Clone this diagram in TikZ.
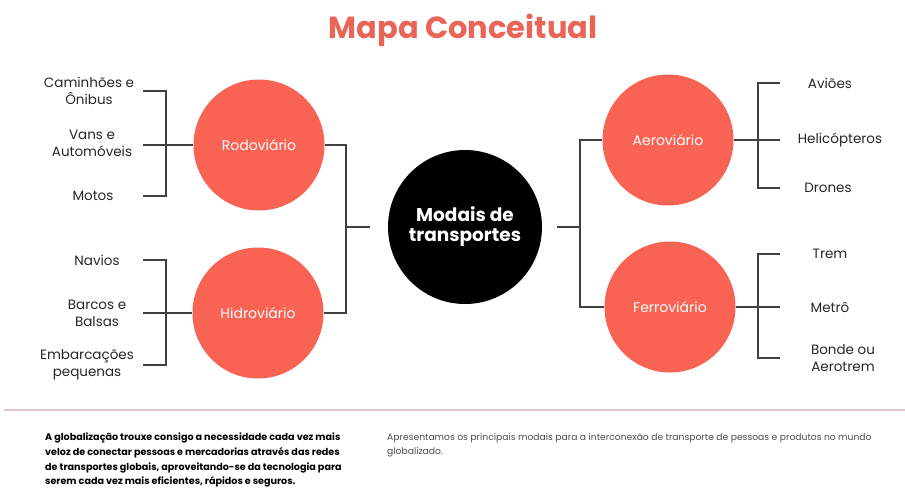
\documentclass[tikz,border=0pt]{standalone}
\usepackage{fontspec}
\setmainfont{Poppins}
\usetikzlibrary{positioning}
\definecolor{coral}{RGB}{248,99,84}
\definecolor{titlered}{RGB}{234,100,88}
\definecolor{rulepink}{RGB}{228,196,206}

\begin{document}
\begin{tikzpicture}[x=1pt,y=-1pt]
    \tikzstyle{modal} = [shape=circle, fill=coral, minimum size=131pt, inner sep=0pt, text=white, font=\fontsize{14}{16}\selectfont];
    \tikzstyle{core} = [shape=circle, fill=black, minimum size=154pt, inner sep=0pt, text=white, align=center, font=\fontsize{18.5}{20}\selectfont\bfseries];
    \tikzstyle{leaf} = [align=center, inner sep=2pt, text=black!85, font=\fontsize{13.5}{17}\selectfont];
    \tikzstyle{link} = [draw=black!75, line width=1.3pt];

    \useasboundingbox (0,0) rectangle (905,488);

    \node[anchor=base, text=titlered, font=\fontsize{30.5}{32}\selectfont\bfseries] (Title) at (463,38) {Mapa Conceitual};

    % centre and the four modes
    \node[core](Mod) at (465,227) {Modais de\\transportes};
    \node[modal](Rod) at (259,145) {Rodoviário};
    \node[modal](Hid) at (258,313) {Hidroviário};
    \node[modal](Aer) at (668,140) {Aeroviário};
    \node[modal](Fer) at (670,307) {Ferroviário};

    % leaves
    \node[leaf](Cam) at (89,91) {Caminhões e\\Ônibus};
    \node[leaf](Van) at (92,143) {Vans e\\Automóveis};
    \node[leaf](Mot) at (93,196) {Motos};
    \node[leaf](Nav) at (97,260) {Navios};
    \node[leaf](Bar) at (97,313) {Barcos e\\Balsas};
    \node[leaf](Emb) at (87,365) {Embarcações\\pequenas};
    \node[leaf](Avi) at (830,83) {Aviões};
    \node[leaf](Hel) at (840,140) {Helicópteros};
    \node[leaf](Dro) at (828,188) {Drones};
    \node[leaf](Tre) at (830,254) {Trem};
    \node[leaf](Met) at (830,307) {Metrô};
    \node[leaf](Bon) at (843,358) {Bonde ou\\Aerotrem};

    \coordinate (XL) at (143,0);
    \coordinate (XLB) at (166,0);
    \coordinate (XR) at (780,0);
    \coordinate (XRB) at (758,0);
    \coordinate (JL) at (346,227);
    \coordinate (JR) at (580,227);

    % brackets
    \draw[link] (Cam -| XL) -| (Mot -| XLB) -- (Mot -| XL);
    \draw[link] (Rod.west -| XL) -- (Rod.west);
    \draw[link] (Nav -| XL) -| (Emb -| XLB) -- (Emb -| XL);
    \draw[link] (Hid.west -| XL) -- (Hid.west);
    \draw[link] (Avi -| XR) -| (Dro -| XRB) -- (Dro -| XR);
    \draw[link] (Aer.east) -- (Aer.east -| XR);
    \draw[link] (Tre -| XR) -| (Bon -| XRB) -- (Bon -| XR);
    \draw[link] (Fer.east) -- (Fer.east -| XR);

    \draw[link] (Rod.east) -| (JL) |- (Hid.east);
    \draw[link] (Aer.west) -| (JR) |- (Fer.west);
    \draw[link, shorten >=18pt] (JL) -- (Mod.west);
    \draw[link, shorten >=15pt] (JR) -- (Mod.east);

    % footer
    \draw[draw=rulepink, line width=2pt] (4,410) -- (905,410);
    \node[anchor=north west, align=left, inner sep=0pt, font=\fontsize{9.6}{14.6}\selectfont\bfseries] (Intro) at (45,433)
        {A globalização trouxe consigo a necessidade cada vez mais\\
         veloz de conectar pessoas e mercadorias através das redes\\
         de transportes globais, aproveitando-se da tecnologia para\\
         serem cada vez mais eficientes, rápidos e seguros.};
    \node[anchor=north west, align=left, inner sep=0pt, text=black!70, font=\fontsize{9.2}{14.6}\selectfont] (Note) at (387,433)
        {Apresentamos os principais modais para a interconexão de transporte de pessoas e produtos no mundo\\
         globalizado.};
\end{tikzpicture}
\end{document}
